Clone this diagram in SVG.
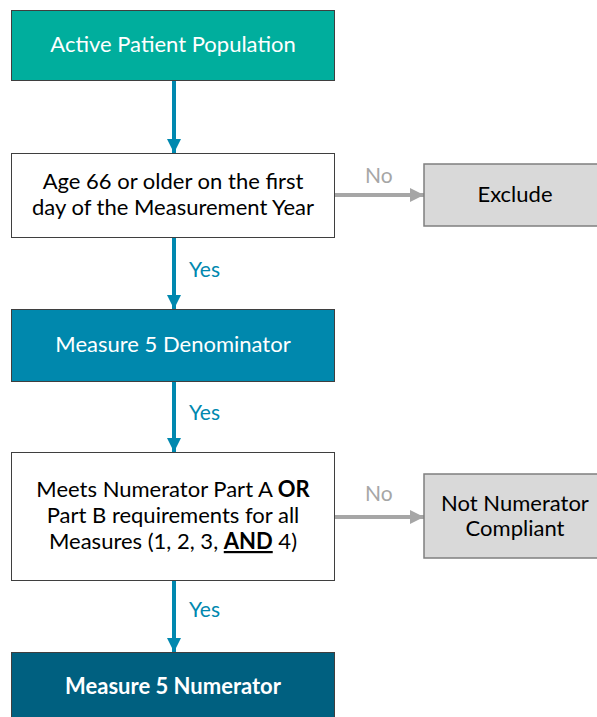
<svg xmlns="http://www.w3.org/2000/svg" width="597" height="717" viewBox="0 0 597 717">
<defs>
<marker id="ab" markerUnits="userSpaceOnUse" markerWidth="14" markerHeight="14" refX="14" refY="7" orient="auto"><path d="M0,0 L14,7 L0,14 Z" fill="#0088AF"/></marker>
<marker id="ag" markerUnits="userSpaceOnUse" markerWidth="14" markerHeight="14" refX="14" refY="7" orient="auto"><path d="M0,0 L14,7 L0,14 Z" fill="#A6A6A6"/></marker>
</defs>
<style>
text{font-family:Lato,"Liberation Sans",sans-serif;font-size:22px;text-anchor:middle}
.box{stroke:#3F3F3F;stroke-width:1}
.gbox{fill:#D9D9D9;stroke:#7F7F7F;stroke-width:1.5}
.blue{stroke:#0088AF;stroke-width:4;fill:none}
.gray{stroke:#A6A6A6;stroke-width:4;fill:none}
.lbY{fill:#0088AF;text-anchor:start;font-size:21px}
.lbN{fill:#A6A6A6;text-anchor:start;font-size:21px}
.w{fill:#FFFFFF}
.k{fill:#000000}
</style>
<g id="connectors">
<line class="blue" x1="174" y1="81" x2="174" y2="153" marker-end="url(#ab)"/>
<line class="blue" x1="174" y1="238" x2="174" y2="309" marker-end="url(#ab)"/>
<line class="blue" x1="174" y1="382" x2="174" y2="452" marker-end="url(#ab)"/>
<line class="blue" x1="174" y1="581" x2="174" y2="652" marker-end="url(#ab)"/>
<line class="gray" x1="335" y1="195" x2="424" y2="195" marker-end="url(#ag)"/>
<line class="gray" x1="335" y1="517" x2="424" y2="517" marker-end="url(#ag)"/>
<text class="lbY" x="189" y="277">Yes</text>
<text class="lbY" x="189" y="420">Yes</text>
<text class="lbY" x="189" y="617">Yes</text>
<text class="lbN" x="365" y="183">No</text>
<text class="lbN" x="365" y="501">No</text>
</g>
<g id="n1"><rect class="box" x="11.5" y="10.5" width="323" height="70" fill="#00AE9D"/><text class="w" x="173" y="52">Active Patient Population</text></g>
<g id="n2"><rect class="box" x="11.5" y="153.5" width="323" height="84" fill="#FFFFFF"/><text class="k" x="173" y="189">Age 66 or older on the first</text><text class="k" x="173" y="215">day of the Measurement Year</text></g>
<g id="n3"><rect class="gbox" x="424" y="164" width="180" height="62"/><text class="k" x="515" y="202">Exclude</text></g>
<g id="n4"><rect class="box" x="11.5" y="309.5" width="323" height="72" fill="#0088AD"/><text class="w" x="173" y="352">Measure 5 Denominator</text></g>
<g id="n5"><rect class="box" x="11.5" y="452.5" width="323" height="128" fill="#FFFFFF"/><text class="k" x="173" y="497">Meets Numerator Part A <tspan font-weight="bold">OR</tspan></text><text class="k" x="173" y="523">Part B requirements for all</text><text class="k" x="173" y="549">Measures (1, 2, 3, <tspan font-weight="bold" text-decoration="underline">AND</tspan> 4)</text></g>
<g id="n6"><rect class="gbox" x="424" y="474" width="180" height="84"/><text class="k" x="515" y="511">Not Numerator</text><text class="k" x="515" y="536">Compliant</text></g>
<g id="n7"><rect class="box" x="11.5" y="652.5" width="323" height="70" fill="#006080"/><text class="w" x="173" y="694" font-weight="bold">Measure 5 Numerator</text></g>
</svg>
